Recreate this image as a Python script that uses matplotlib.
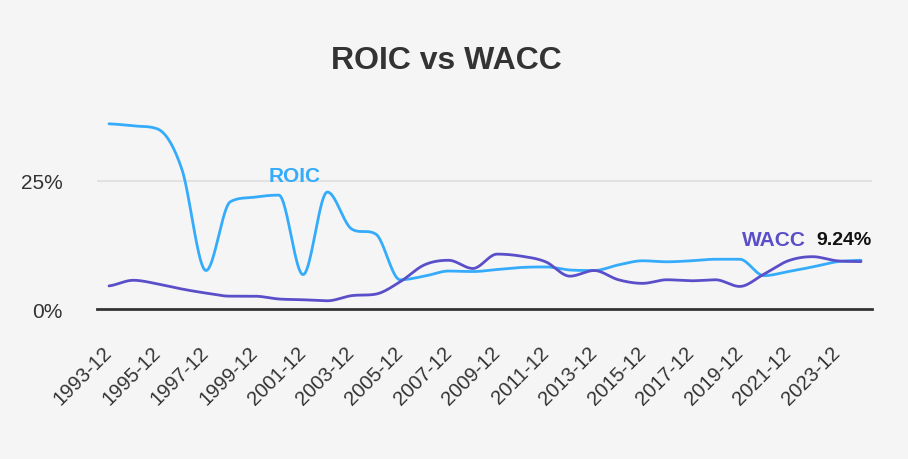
import numpy as np
import matplotlib
matplotlib.use("Agg")
import matplotlib.pyplot as plt

years = list(range(1993, 2025))
tick_years = list(range(1993, 2025, 2))
tick_labels = [f"{y}-12" for y in tick_years]

roic = [36.1, 35.7, 35.1, 27.3, 7.5, 20.9, 21.8, 22.2, 6.7, 22.8, 15.6, 14.6,
        5.7, 6.4, 7.4, 7.3, 7.7, 8.1, 8.2, 7.6, 7.5, 8.6, 9.4, 9.2, 9.4, 9.7,
        9.7, 6.5, 7.3, 8.2, 9.2, 9.5]
wacc = [4.5, 5.6, 4.9, 3.9, 3.1, 2.5, 2.5, 1.95, 1.8, 1.6, 2.6, 2.9,
        5.3, 8.6, 9.5, 7.9, 10.7, 10.3, 9.2, 6.4, 7.5, 5.7, 5.0, 5.7, 5.5, 5.7,
        4.4, 6.8, 9.4, 10.2, 9.4, 9.24]

ROIC_C = "#35acfb"
WACC_C = "#5a4ec9"


def smooth(x, y, n=24):
    """Cubic Hermite with averaged tangents, flattened at local extrema."""
    x = np.asarray(x, float)
    y = np.asarray(y, float)
    h = np.diff(x)
    d = np.diff(y) / h
    m = np.zeros_like(y)
    for k in range(1, len(y) - 1):
        if d[k - 1] * d[k] > 0:
            m[k] = 0.5 * (d[k - 1] + d[k])
            lim = 3 * min(abs(d[k - 1]), abs(d[k]))
            if abs(m[k]) > lim:
                m[k] = np.sign(m[k]) * lim
        else:
            m[k] = 0.0
    m[0] = 0.5 * d[0]
    m[-1] = 0.5 * d[-1]
    xs, ys = [], []
    for k in range(len(x) - 1):
        t = np.linspace(0, 1, n, endpoint=False)
        h00 = 2 * t**3 - 3 * t**2 + 1
        h10 = t**3 - 2 * t**2 + t
        h01 = -2 * t**3 + 3 * t**2
        h11 = t**3 - t**2
        xs.append(x[k] + t * h[k])
        ys.append(h00 * y[k] + h10 * h[k] * m[k] + h01 * y[k + 1] + h11 * h[k] * m[k + 1])
    xs.append([x[-1]])
    ys.append([y[-1]])
    return np.concatenate(xs), np.concatenate(ys)


plt.rcParams['font.family'] = ['Liberation Sans', 'DejaVu Sans']
W, H = 908, 460
fig = plt.figure(figsize=(W / 100, H / 100), dpi=100)
fig.patch.set_facecolor("#f5f5f5")

left_px, right_px = 97, 872
y0_px = 310.0
per_pct = 5.13
ymax = 40
top_px = y0_px - ymax * per_pct
ax = fig.add_axes([left_px / W, (H - y0_px) / H, (right_px - left_px) / W, (y0_px - top_px) / H])
ax.set_facecolor("#f5f5f5")

px_per_year = (861 - 109) / 31
xmin = 1993 - (109 - left_px) / px_per_year
xmax = 2024 + (right_px - 861) / px_per_year
ax.set_xlim(xmin, xmax)
ax.set_ylim(0, ymax)

ax.axhline(25, color="#e2e2e2", lw=1.5, zorder=1)
ax.axhline(0, color="#333333", lw=2, zorder=3, clip_on=False)

xs, ys = smooth(years, roic)
ax.plot(xs, ys, color=ROIC_C, lw=2, zorder=4, solid_capstyle="round")
xs, ys = smooth(years, wacc)
ax.plot(xs, ys, color=WACC_C, lw=2, zorder=5, solid_capstyle="round")

for s in ax.spines.values():
    s.set_visible(False)

ax.set_yticks([0, 25])
ax.set_yticklabels(["0%", "25%"], fontsize=15, color="#333333")
ax.tick_params(axis="y", length=0, pad=25)

ax.set_xticks(tick_years)
ax.set_xticklabels(tick_labels, rotation=45, ha="right", va="center",
                   rotation_mode="anchor", fontsize=14.5, color="#333333")
ax.tick_params(axis="x", length=0, pad=29)


def fx(px):
    return px / W


def fy(py):
    return 1 - py / H


fig.text(fx(446), fy(61), "ROIC vs WACC", ha="center", va="center",
         fontsize=23, fontweight="bold", color="#333333")
fig.text(fx(294.5), fy(176), "ROIC", ha="center", va="center",
         fontsize=15, fontweight="bold", color=ROIC_C)
fig.text(fx(774), fy(241), "WACC", ha="center", va="center",
         fontsize=15, fontweight="bold", color=WACC_C)
fig.text(fx(844), fy(241), "9.24%", ha="center", va="center",
         fontsize=14, fontweight="bold", color="#111111")

fig.savefig("out.png", dpi=100, facecolor=fig.get_facecolor())
